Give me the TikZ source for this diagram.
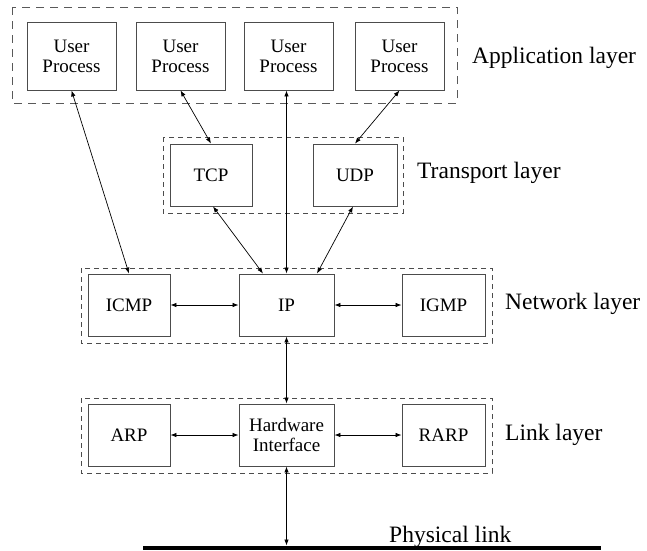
\documentclass[tikz,border=0pt]{standalone}
\usepackage{fontspec}
\setmainfont{Liberation Serif}
\usetikzlibrary{arrows.meta,calc}

\tikzset{
  proto/.style={draw=black!70, line width=0.9pt, fill=white, align=center,
    inner sep=0pt, minimum height=62pt,
    font=\fontsize{19}{20}\selectfont},
  userbox/.style={proto, minimum width=89pt, minimum height=68pt},
  layerframe/.style={draw=black!70, line width=0.9pt, dash pattern=on 5pt off 4pt},
  appframe/.style={draw=black!65, line width=1pt, dash pattern=on 8pt off 6pt},
  layerlabel/.style={anchor=base west, inner sep=0pt,
    font=\fontsize{23.5}{26}\selectfont},
  link/.style={draw=black, line width=0.7pt, {Latex[length=6pt,width=4.5pt]}-{Latex[length=6pt,width=4.5pt]}},
}

\begin{document}
\begin{tikzpicture}[x=1pt,y=-1pt]
\useasboundingbox (0,0) rectangle (647,550);

% layer frames
\draw[appframe]   (12,7)    rectangle (457,103);
\draw[layerframe] (163,137) rectangle (403,213);
\draw[layerframe] (81,268)  rectangle (492,343);
\draw[layerframe] (81,398)  rectangle (492,473);

% application layer
\node[userbox] (up1) at (71.5,56)  {User\\Process};
\node[userbox] (up2) at (180.5,56) {User\\Process};
\node[userbox] (up3) at (288.5,56) {User\\Process};
\node[userbox] (up4) at (399.5,56) {User\\Process};

% transport layer
\node[proto, minimum width=82pt] (tcp) at (211,175) {TCP};
\node[proto, minimum width=84pt] (udp) at (355,175) {UDP};

% network layer
\node[proto, minimum width=82pt] (icmp) at (129,305)   {ICMP};
\node[proto, minimum width=95pt] (ip)   at (286.5,305) {IP};
\node[proto, minimum width=83pt] (igmp) at (443.5,305) {IGMP};

% link layer
\node[proto, minimum width=82pt] (arp)  at (129,435)   {ARP};
\node[proto, minimum width=95pt] (hw)   at (286.5,435) {Hardware\\Interface};
\node[proto, minimum width=83pt] (rarp) at (443.5,435) {RARP};

% physical medium
\coordinate (busL) at (143,548);
\coordinate (busR) at (601,548);
\draw[line width=4.5pt] (busL) -- (busR);
\coordinate (tap) at (286.5,545.5);

% layer labels
\node[layerlabel] (lapp)  at (472,63)  {Application layer};
\node[layerlabel] (ltr)   at (417,178) {Transport layer};
\node[layerlabel] (lnet)  at (505,309) {Network layer};
\node[layerlabel] (llink) at (505,440) {Link layer};
\node[layerlabel] (lphy)  at (389,542) {Physical link};

% connectors
\draw[link] (up1.south) -- (icmp.north);
\draw[link] (up2.south) -- (tcp.north);
\draw[link] (up3.south -| ip.north) -- (ip.north);
\draw[link] (up4.south) -- (udp.north);
\draw[link] ($(tcp.south)+(2,0)$) -- ($(ip.north)+(-23.5,0)$);
\draw[link] ($(udp.south)+(-2,0)$) -- ($(ip.north)+(30.5,0)$);
\draw[link] (icmp.east) -- (ip.west);
\draw[link] (ip.east) -- (igmp.west);
\draw[link] (ip.south) -- (hw.north);
\draw[link] (arp.east) -- (hw.west);
\draw[link] (hw.east) -- (rarp.west);
\draw[link] (hw.south) -- (tap);
\end{tikzpicture}
\end{document}
